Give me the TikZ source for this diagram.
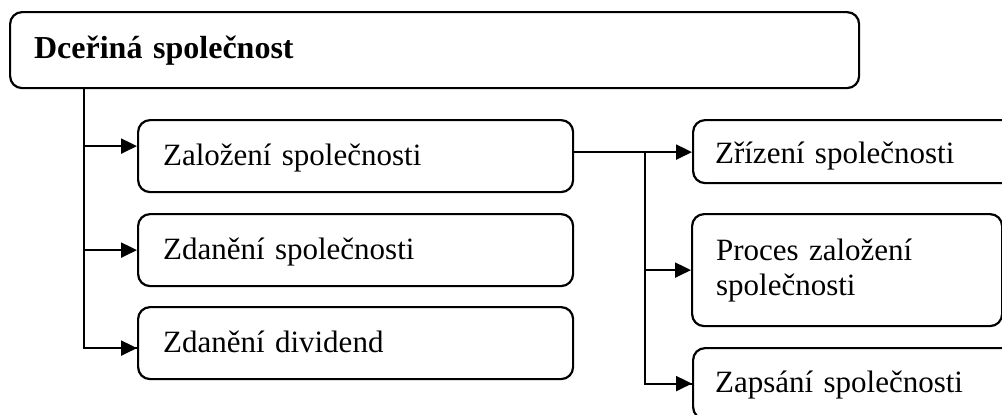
\documentclass[tikz,border=0pt]{standalone}
\usepackage{fontspec}
\setmainfont{Liberation Serif}
\usetikzlibrary{arrows.meta,calc}
\begin{document}
\begin{tikzpicture}[x=1pt,y=-1pt,
  box/.style={draw,line width=2.2pt,rounded corners=12pt,anchor=north west,
    align=left,font=\fontsize{31}{35}\selectfont,text height=23pt,text depth=5pt,
    inner ysep=0pt},
  arr/.style={line width=2.2pt,-{Triangle[length=16pt,width=15pt]}},
  conn/.style={line width=2.2pt}]
\useasboundingbox (0,0) rectangle (1002,415);
\clip (0,0) rectangle (1002,415);
% boxes
\node[box,minimum width=849pt,minimum height=76pt,text width=801pt,inner xsep=24pt,
  font=\fontsize{32}{36}\selectfont\bfseries,text height=22pt,text depth=6pt] (top) at (9,11) {Dceřiná společnost};
\node[box,minimum width=435pt,minimum height=72pt,text width=385pt,inner xsep=25pt] (zal) at (137,119) {Založení společnosti};
\node[box,minimum width=435pt,minimum height=72pt,text width=385pt,inner xsep=25pt] (zdan) at (137,213) {Zdanění společnosti};
\node[box,minimum width=435pt,minimum height=72pt,text width=385pt,inner xsep=25pt] (div) at (137,306) {Zdanění dividend};
\node[box,minimum width=340pt,minimum height=63pt,text width=296pt,inner xsep=22pt,text height=24pt,text depth=0pt] (zriz) at (692,119) {Zřízení společnosti};
\node[box,minimum width=310pt,minimum height=112pt,text width=262pt,inner xsep=24pt,text height=,text depth=] (proc) at (691,213) {Proces založení\\společnosti};
\node[box,minimum width=340pt,minimum height=71pt,text width=296pt,inner xsep=22pt] (zaps) at (692,347) {Zapsání společnosti};
% left connectors
\coordinate (trunk) at ([xshift=75pt]top.south west);
\coordinate (zalin) at ([yshift=10pt]zal.west);
\coordinate (divin) at ([yshift=-5pt]div.west);
\draw[conn] (trunk) |- (divin);
\draw[arr] ([xshift=-1.1pt]trunk |- divin) -- (divin);
\draw[arr] (trunk |- zalin) -- (zalin);
\draw[arr] (trunk |- zdan.west) -- (zdan.west);
% right connectors
\coordinate (zalout) at ([yshift=4pt]zal.east);
\coordinate (split) at ([xshift=71pt]zalout);
\draw[arr] (zalout) -- (zriz.west |- zalout);
\draw[conn] (split) |- (zaps.west);
\draw[arr] ([xshift=-1.1pt]split |- zaps.west) -- (zaps.west);
\draw[arr] (split |- proc.west) -- (proc.west);
\end{tikzpicture}
\end{document}
